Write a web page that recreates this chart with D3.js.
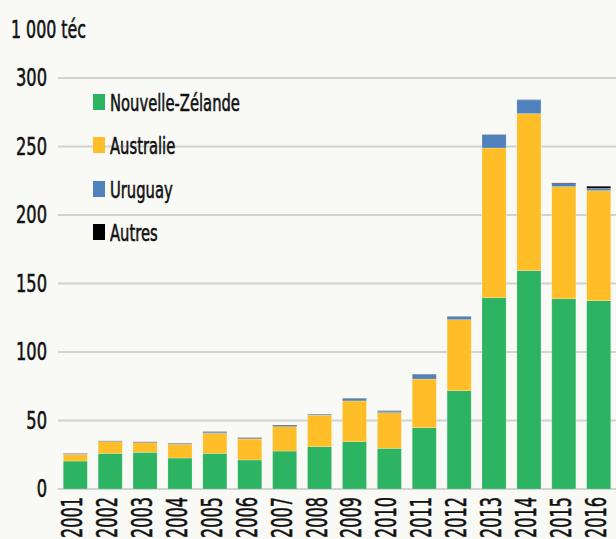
<!DOCTYPE html>
<html>
<head>
<meta charset="utf-8">
<script src="https://cdn.jsdelivr.net/npm/d3@7"></script>
<style>
  body { margin: 0; background: #f9f9f5; }
  svg { display: block; font-family: "DejaVu Sans Condensed", "DejaVu Sans", sans-serif; font-stretch: condensed; }
  text { fill: #111; stroke: #111; stroke-width: 0.55; }
</style>
</head>
<body>
<div id="chart"></div>
<script>
// Data (1 000 téc)
const years = ["2001","2002","2003","2004","2005","2006","2007","2008","2009","2010","2011","2012","2013","2014","2015","2016"];
const nouvelleZelande = [20.4, 26, 26.8, 22.6, 26, 21.2, 27.7, 30.9, 34.5, 29.7, 44.8, 71.8, 139.6, 159.4, 138.9, 137.5];
const australie = [4.9, 8.6, 7, 10, 14.6, 15.3, 17.8, 22.9, 29.8, 26, 35.5, 51.8, 109.3, 114.6, 81.8, 80.3];
const uruguay = [0.3, 0.3, 0.3, 0.2, 0.8, 0.5, 0.8, 0.2, 1.8, 1.2, 3.4, 2.2, 9.7, 10, 2.2, 1.7];
const autres = [0.3, 0.2, 0.3, 0.4, 0.4, 0.4, 0.4, 0.4, 0.2, 0.2, 0.2, 0.2, 0.2, 0.2, 0.5, 1.5];
const seriesNames = ["Nouvelle-Zélande", "Australie", "Uruguay", "Autres"];
const yTicks = [0, 50, 100, 150, 200, 250, 300];
const unitLabel = "1 000 téc";

const colors = ["#2db462", "#ffbe28", "#4f81bd", "#000000"];

const width = 616, height = 539;
const margin = { top: 78, right: 0, bottom: 50, left: 58 };

const svg = d3.select("#chart").append("svg")
  .attr("width", width)
  .attr("height", height);

const x = d3.scaleBand()
  .domain(years)
  .range([margin.left, width - margin.right])
  .paddingInner(0.31)
  .paddingOuter(0.15);

const y = d3.scaleLinear()
  .domain([0, 300])
  .range([height - margin.bottom, margin.top]);

// measure a string so the narrow look of the original can be matched
const measure = (str, size) => {
  const t = svg.append("text").attr("font-size", size).text(str);
  const w = t.node().getComputedTextLength();
  t.remove();
  return w;
};
const tickSqueeze = 31 / measure("300", 25);
const yearSqueeze = 41 / measure("2001", 29);
const legendSqueeze = 130 / measure("Nouvelle-Zélande", 23);
const unitSqueeze = 75 / measure(unitLabel, 25);

// table for stacking
const table = years.map((yr, i) => ({
  year: yr,
  "Nouvelle-Zélande": nouvelleZelande[i],
  "Australie": australie[i],
  "Uruguay": uruguay[i],
  "Autres": autres[i]
}));
const stacked = d3.stack().keys(seriesNames)(table);

// gridlines
svg.append("g")
  .selectAll("line")
  .data(yTicks)
  .enter().append("line")
  .attr("x1", margin.left)
  .attr("x2", width)
  .attr("y1", d => y(d))
  .attr("y2", d => y(d))
  .attr("stroke", "#d2d2d2")
  .attr("stroke-width", 2);

// y tick labels
svg.append("g")
  .selectAll("text")
  .data(yTicks)
  .enter().append("text")
  .attr("transform", d => `translate(47,${y(d) + 8}) scale(${tickSqueeze},1)`)
  .attr("text-anchor", "end")
  .attr("font-size", 25)
  .text(d => d);

svg.append("text")
  .attr("transform", `translate(11,38) scale(${unitSqueeze},1)`)
  .attr("font-size", 25)
  .text(unitLabel);

// bars
svg.append("g")
  .selectAll("g")
  .data(stacked)
  .enter().append("g")
  .attr("fill", (d, i) => colors[i])
  .selectAll("rect")
  .data(d => d)
  .enter().append("rect")
  .attr("x", d => x(d.data.year))
  .attr("width", x.bandwidth())
  .attr("y", d => y(d[1]))
  .attr("height", d => y(d[0]) - y(d[1]))
  .attr("stroke", "rgba(255,255,255,0.35)")
  .attr("stroke-width", 0.6);

// x labels (rotated, reading upwards)
svg.append("g")
  .selectAll("text")
  .data(years)
  .enter().append("text")
  .attr("transform", d => `translate(${x(d) + x.bandwidth() / 2 + 7},${height - margin.bottom + 8}) rotate(-90) scale(${yearSqueeze},1)`)
  .attr("text-anchor", "end")
  .attr("font-size", 29)
  .text(d => d);

// legend
const legendY = [102, 145, 189, 232];
const legend = svg.append("g")
  .selectAll("g")
  .data(seriesNames)
  .enter().append("g")
  .attr("transform", (d, i) => `translate(93,${legendY[i]})`);

legend.append("rect")
  .attr("x", 0)
  .attr("y", -8)
  .attr("width", 12)
  .attr("height", 16)
  .attr("fill", (d, i) => colors[i]);

legend.append("text")
  .attr("transform", `translate(17,8.5) scale(${legendSqueeze},1)`)
  .attr("font-size", 23)
  .text(d => d);
</script>
</body>
</html>
